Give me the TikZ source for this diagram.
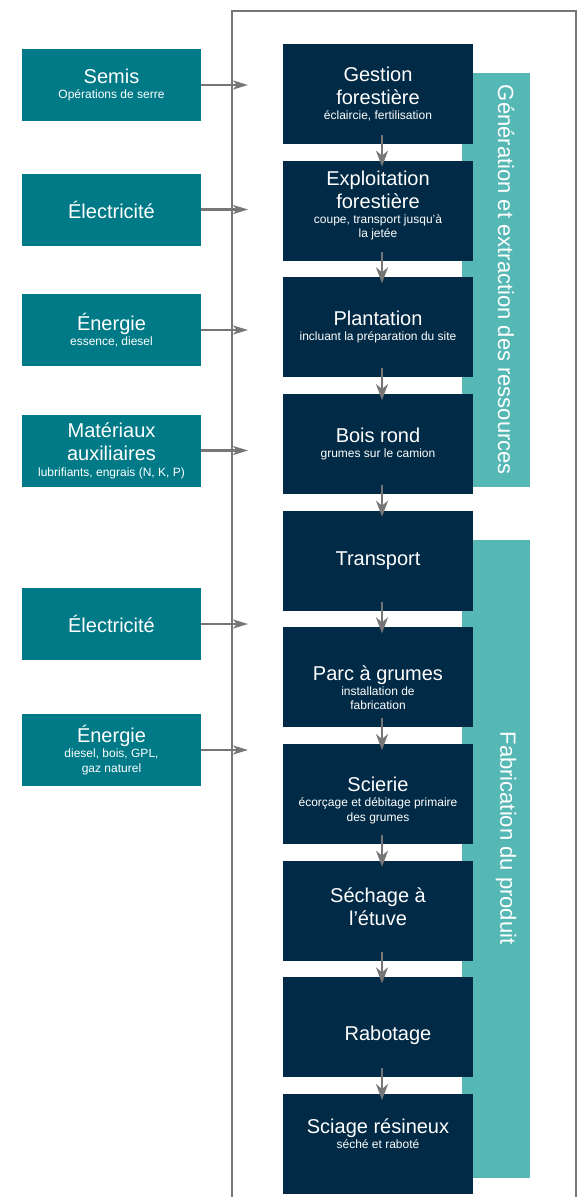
\documentclass[tikz,border=0pt]{standalone}
\usepackage{fontspec}
\setmainfont{Liberation Sans}
\usetikzlibrary{arrows.meta,positioning,calc}
\definecolor{navy}{RGB}{0,42,69}
\definecolor{inputteal}{RGB}{0,122,135}
\definecolor{bandteal}{RGB}{86,184,181}
\definecolor{linegray}{RGB}{118,118,118}
\newcommand{\subt}[1]{{\fontsize{12pt}{14pt}\selectfont #1}}
\tikzset{
	process chart/.style={
		x=1pt, y=-1pt,
		node distance=16.67pt and 0pt,
		every node/.style={text=white, align=center, inner sep=0pt, outer sep=0pt,
			font=\fontsize{20pt}{23pt}\selectfont}},
	input/.style={fill=inputteal, minimum width=179pt, minimum height=72pt},
	stepbox/.style={fill=navy, minimum width=190pt, minimum height=100pt},
	phase/.style={fill=bandteal, minimum width=68pt},
	phase name/.style={rotate=-90, font=\fontsize{22pt}{25pt}\selectfont},
	feed/.style={draw=linegray, line width=2.3pt, -{Stealth[length=15pt,width=9pt,inset=4pt]}},
	flow/.style={draw=linegray, line width=2pt, -{Stealth[length=16pt,width=12pt,inset=5pt]}},
	frame/.style={draw=linegray, line width=2.5pt}
}
\begin{document}
\begin{tikzpicture}[process chart]
   \useasboundingbox (0,0) rectangle (580,1197);
   % phases behind the chain
   \node[phase, minimum height=414pt] (ph1) at (496,280) {};
   \node[phase, minimum height=638pt] (ph2) at (496,859) {};
   \node[phase name] (ph1t) at (506,280) {Génération et extraction des ressources};
   \node[phase name] (ph2t) at (506,838) {Fabrication du produit};
   \draw[frame] (232,1197) |- (576,11) -- (576,1197);
   \coordinate (fr) at (248,0);
   % process chain
   \node[stepbox] (b1) at (378,94) {};
   \node[stepbox, below=of b1] (b2) {};
   \node[stepbox, below=of b2] (b3) {};
   \node[stepbox, below=of b3] (b4) {};
   \node[stepbox, below=of b4] (b5) {};
   \node[stepbox, below=of b5] (b6) {};
   \node[stepbox, below=of b6] (b7) {};
   \node[stepbox, below=of b7] (b8) {};
   \node[stepbox, below=of b8] (b9) {};
   \node[stepbox, below=of b9] (b10) {};
   \node (b1t) at (b1) {Gestion\\forestière\\[-8pt]\subt{éclaircie, fertilisation}};
   \node (b2t) at ([yshift=5pt]b2.center) {Exploitation\\forestière\\[-8pt]\subt{coupe, transport jusqu'à}\\[-9pt]\subt{la jetée}};
   \node (b3t) at (b3) {Plantation\\[-8pt]\subt{incluant la préparation du site}};
   \node (b4t) at (b4) {Bois rond\\[-8pt]\subt{grumes sur le camion}};
   \node (b5t) at (b5) {Transport};
   \node (b6t) at ([yshift=-10pt]b6.center) {Parc à grumes\\[-8pt]\subt{installation de}\\[-9pt]\subt{fabrication}};
   \node (b7t) at ([yshift=-6pt]b7.center) {Scierie\\[-8pt]\subt{écorçage et débitage primaire}\\[-8pt]\subt{des grumes}};
   \node (b8t) at ([yshift=4pt]b8.center) {Séchage à\\l’étuve};
   \node (b9t) at ([xshift=10pt,yshift=-8pt]b9.center) {Rabotage};
   \node (b10t) at ([yshift=10pt]b10.center) {Sciage résineux\\[-8pt]\subt{séché et raboté}};
   \foreach \a/\b in {b1/b2,b2/b3,b3/b4,b4/b5,b5/b6,b6/b7,b7/b8,b8/b9,b9/b10}
      \draw[flow] ([xshift=4pt,yshift=9pt]\a.south) -- ([xshift=4pt,yshift=-6pt]\b.north);
   % inputs
   \node[input] (semis) at (111.5,85) {Semis\\[-8pt]\subt{Opérations de serre}};
   \node[input] (elec1) at (111.5,209.5) {Électricité};
   \node[input] (ener1) at (111.5,330) {Énergie\\[-8pt]\subt{essence, diesel}};
   \node[input] (mat) at (111.5,450.5) {Matériaux\\auxiliaires\\[-7pt]\subt{lubrifiants, engrais (N, K, P)}};
   \node[input] (elec2) at (111.5,624) {Électricité};
   \node[input] (ener2) at (111.5,750) {Énergie\\[-8pt]\subt{diesel, bois, GPL,}\\[-8pt]\subt{gaz naturel}};
   \foreach \n in {semis,elec1,ener1,mat,elec2,ener2}
      \draw[feed] (\n.east) -- (\n.east -| fr);
\end{tikzpicture}
\end{document}
